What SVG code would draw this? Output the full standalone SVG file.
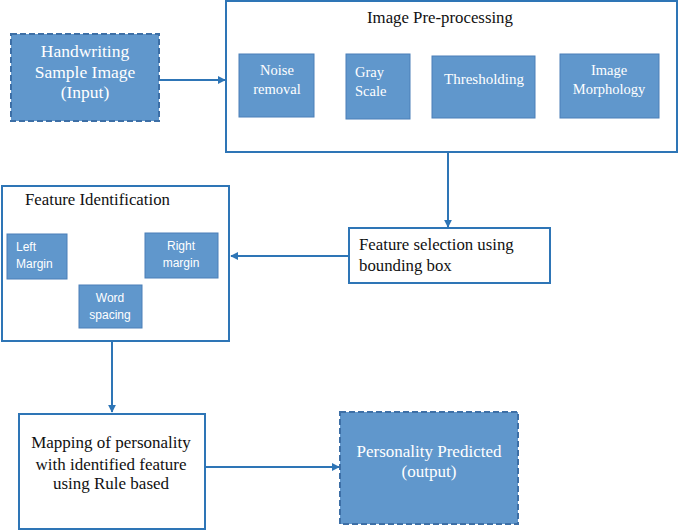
<svg xmlns="http://www.w3.org/2000/svg" width="680" height="530" viewBox="0 0 680 530">
<style>
.frame{fill:#ffffff;stroke:#2E75B6;stroke-width:2}
.blue{fill:#6097CC;stroke:#4A7FB8;stroke-width:1}
.dash{fill:#6097CC;stroke:#3D6FA6;stroke-width:2;stroke-dasharray:6 3}
.serifW{font-family:"Liberation Serif","Times New Roman",serif;fill:#ffffff}
.serifB{font-family:"Liberation Serif","Times New Roman",serif;fill:#111111}
.sansW{font-family:"Liberation Sans",Arial,sans-serif;fill:#ffffff;font-size:12px}
.conn{stroke:#2E75B6;stroke-width:2;fill:none}
</style>
<defs>
<marker id="arr" viewBox="0 0 10 10" refX="9" refY="5" markerWidth="4" markerHeight="4" orient="auto" markerUnits="strokeWidth">
<path d="M0,0 L10,5 L0,10 z" fill="#2E75B6"/>
</marker>
</defs>
<g id="connectors">
<line class="conn" x1="160" y1="80" x2="225" y2="80" marker-end="url(#arr)"/>
<line class="conn" x1="448" y1="152" x2="448" y2="227" marker-end="url(#arr)"/>
<line class="conn" x1="349" y1="256" x2="231" y2="256" marker-end="url(#arr)"/>
<line class="conn" x1="112" y1="342" x2="112" y2="412" marker-end="url(#arr)"/>
<line class="conn" x1="205" y1="467" x2="339" y2="467" marker-end="url(#arr)"/>
</g>
<g id="input">
<rect class="dash" x="11" y="34" width="148" height="87"/>
<text class="serifW" font-size="17.5" text-anchor="middle"><tspan x="85" y="57">Handwriting</tspan><tspan x="85" y="78">Sample Image</tspan><tspan x="85" y="98">(Input)</tspan></text>
</g>
<g id="preprocessing">
<rect class="frame" x="226" y="1" width="451" height="151"/>
<text class="serifB" font-size="16.8" x="367" y="23">Image Pre-processing</text>
</g>
<g id="noise">
<rect class="blue" x="239" y="54" width="75" height="63"/>
<text class="serifW" font-size="14.5" text-anchor="middle"><tspan x="277" y="75">Noise</tspan><tspan x="277" y="94">removal</tspan></text>
</g>
<g id="gray">
<rect class="blue" x="346" y="54" width="64" height="65"/>
<text class="serifW" font-size="14.5"><tspan x="355" y="77">Gray</tspan><tspan x="355" y="96">Scale</tspan></text>
</g>
<g id="thresholding">
<rect class="blue" x="432" y="56" width="103" height="62"/>
<text class="serifW" font-size="15" text-anchor="middle" x="484" y="84">Thresholding</text>
</g>
<g id="morphology">
<rect class="blue" x="560" y="54" width="99" height="64"/>
<text class="serifW" font-size="14.5" text-anchor="middle"><tspan x="609" y="75">Image</tspan><tspan x="609" y="94">Morphology</tspan></text>
</g>
<g id="selection">
<rect class="frame" x="349" y="228" width="201" height="55"/>
<text class="serifB" font-size="16.8"><tspan x="359" y="250">Feature selection using</tspan><tspan x="359" y="271">bounding box</tspan></text>
</g>
<g id="identification">
<rect class="frame" x="2" y="186" width="227" height="155"/>
<text class="serifB" font-size="16.8" x="25" y="205">Feature Identification</text>
</g>
<g id="left-margin">
<rect class="blue" x="7" y="234" width="60" height="45"/>
<text class="sansW"><tspan x="16" y="251">Left</tspan><tspan x="16" y="268">Margin</tspan></text>
</g>
<g id="right-margin">
<rect class="blue" x="145" y="233" width="73" height="45"/>
<text class="sansW" text-anchor="middle"><tspan x="181" y="250">Right</tspan><tspan x="181" y="267">margin</tspan></text>
</g>
<g id="word-spacing">
<rect class="blue" x="79" y="285" width="63" height="43"/>
<text class="sansW" text-anchor="middle"><tspan x="110" y="302">Word</tspan><tspan x="110" y="319">spacing</tspan></text>
</g>
<g id="mapping">
<rect class="frame" x="19" y="414" width="186" height="115"/>
<text class="serifB" font-size="17" text-anchor="middle"><tspan x="111" y="448">Mapping of personality</tspan><tspan x="111" y="470">with identified feature</tspan><tspan x="111" y="489">using Rule based</tspan></text>
</g>
<g id="output">
<rect class="dash" x="340" y="412" width="178" height="112"/>
<text class="serifW" font-size="17" text-anchor="middle"><tspan x="429" y="457">Personality Predicted</tspan><tspan x="429" y="477">(output)</tspan></text>
</g>
</svg>
